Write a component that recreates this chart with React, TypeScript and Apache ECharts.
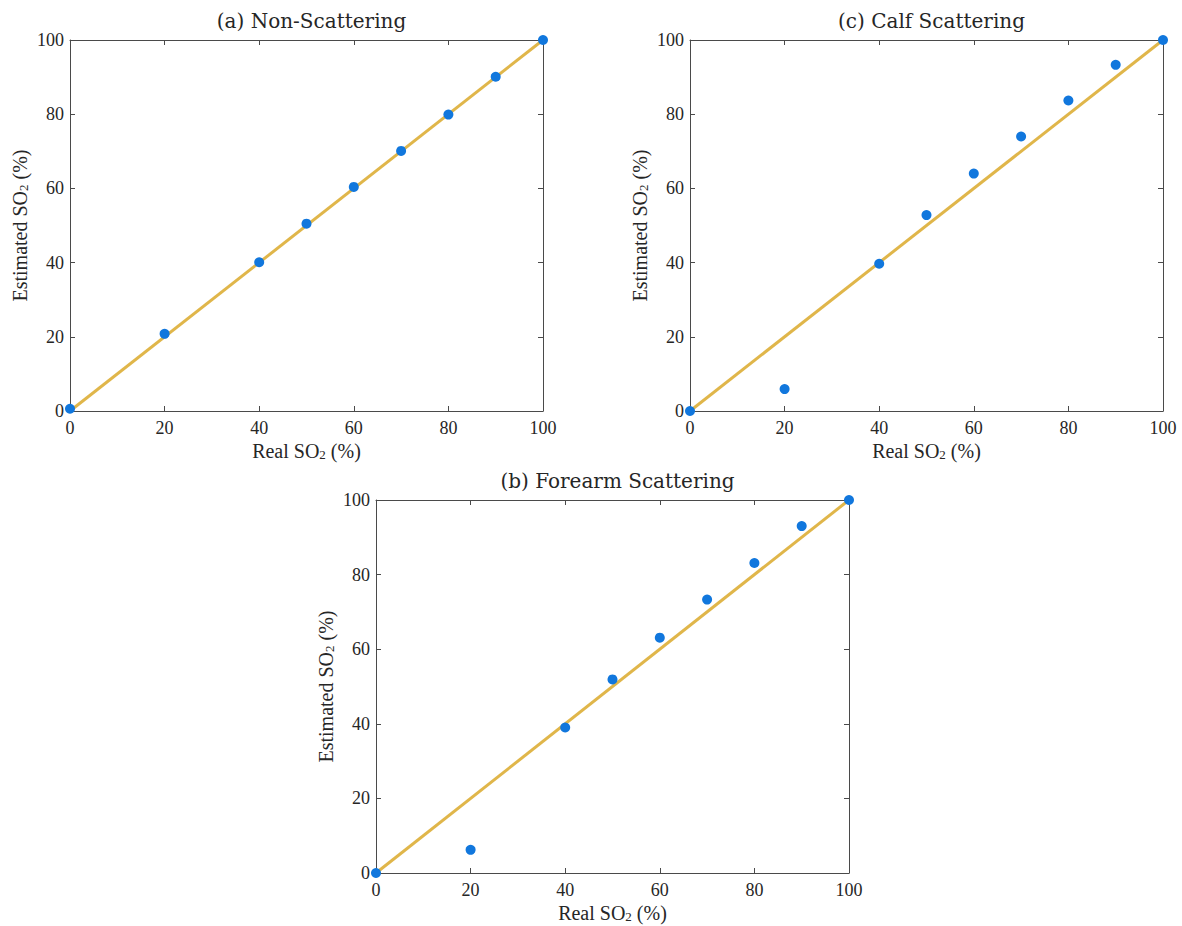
import React, { useEffect, useRef } from "react";
import * as echarts from "echarts";

const realSO2 = [0, 20, 40, 50, 60, 70, 80, 90, 100];
const nonScattering = [0.6, 20.8, 40.1, 50.5, 60.4, 70.1, 79.9, 90.1, 100];
const calfScattering = [0, 5.9, 39.7, 52.8, 64.0, 74.0, 83.7, 93.3, 100];
const forearmScattering = [0, 6.2, 39.0, 51.9, 63.1, 73.3, 83.1, 93.0, 100];
const identityLine = [
  [0, 0],
  [100, 100],
];
const panelTitles = ["(a) Non-Scattering", "(c) Calf Scattering", "(b) Forearm Scattering"];

const FONT = "'Liberation Serif', 'DejaVu Serif', serif";
const TITLE_FONT = "'DejaVu Serif', 'Liberation Serif', serif";
const AXIS_COLOR = "#4a4a4a";
const TEXT_COLOR = "#262626";
const DOT_COLOR = "#1177DD";
const LINE_COLOR = "#E0B64A";

const grids = [
  { left: 70, top: 40, right: 1182 - 543, bottom: 926 - 411 },
  { left: 690, top: 40, right: 1182 - 1163, bottom: 926 - 411 },
  { left: 376, top: 500, right: 1182 - 849, bottom: 926 - 873 },
];

const subRich = {
  s: { fontSize: 13, fontFamily: FONT, color: TEXT_COLOR, verticalAlign: "bottom", padding: [7, 0, 0, 0] },
};

export default function App() {
  const ref = useRef<HTMLDivElement>(null);
  useEffect(() => {
    if (!ref.current) return;
    const chart = echarts.init(ref.current, undefined, { renderer: "svg" });
    const xAxes: any[] = [];
    const yAxes: any[] = [];
    const series: any[] = [];
    const datasets = [nonScattering, calfScattering, forearmScattering];
    grids.forEach((g, i) => {
      const common = {
        type: "value",
        min: 0,
        max: 100,
        interval: 20,
        gridIndex: i,
        splitLine: { show: false },
        axisLine: { show: true, onZero: false, lineStyle: { color: AXIS_COLOR, width: 1 } },
        axisTick: { show: true, inside: true, length: 5, lineStyle: { color: AXIS_COLOR } },
      };
      xAxes.push({
        ...common,
        position: "bottom",
        axisLabel: { show: true, fontFamily: FONT, fontSize: 18, color: TEXT_COLOR, margin: 8 },
        name: "Real SO{s|2} (%)",
        nameLocation: "middle",
        nameGap: 30,
        nameTextStyle: { fontFamily: FONT, fontSize: 20, color: TEXT_COLOR, rich: subRich },
      });
      xAxes.push({ ...common, position: "top", axisLabel: { show: false } });
      yAxes.push({
        ...common,
        position: "left",
        axisLabel: { show: true, fontFamily: FONT, fontSize: 18, color: TEXT_COLOR, margin: 6 },
        name: "Estimated SO{s|2} (%)",
        nameLocation: "middle",
        nameGap: 40,
        nameTextStyle: { fontFamily: FONT, fontSize: 20, color: TEXT_COLOR, rich: subRich },
      });
      yAxes.push({ ...common, position: "right", axisLabel: { show: false } });
      series.push({
        type: "line",
        xAxisIndex: i * 2,
        yAxisIndex: i * 2,
        data: identityLine,
        showSymbol: false,
        symbol: "none",
        lineStyle: { color: LINE_COLOR, width: 3 },
        z: 2,
      });
      series.push({
        type: "scatter",
        xAxisIndex: i * 2,
        yAxisIndex: i * 2,
        data: realSO2.map((x, k) => [x, datasets[i][k]]),
        symbol: "circle",
        symbolSize: 10,
        itemStyle: { color: DOT_COLOR, opacity: 1 },
        z: 3,
      });
    });
    chart.setOption({
      animation: false,
      backgroundColor: "#ffffff",
      title: grids.map((g, i) => ({
        text: panelTitles[i],
        left: (g.left + (1182 - g.right)) / 2,
        top: g.top - 34,
        textAlign: "center",
        textStyle: { fontFamily: TITLE_FONT, fontSize: 20, fontWeight: "normal", color: TEXT_COLOR },
      })),
      grid: grids.map((g) => ({ ...g, containLabel: false })),
      xAxis: xAxes,
      yAxis: yAxes,
      series,
    });
    return () => chart.dispose();
  }, []);
  return <div ref={ref} style={{ position: "fixed", left: 0, top: 0, width: 1182, height: 926 }} />;
}
